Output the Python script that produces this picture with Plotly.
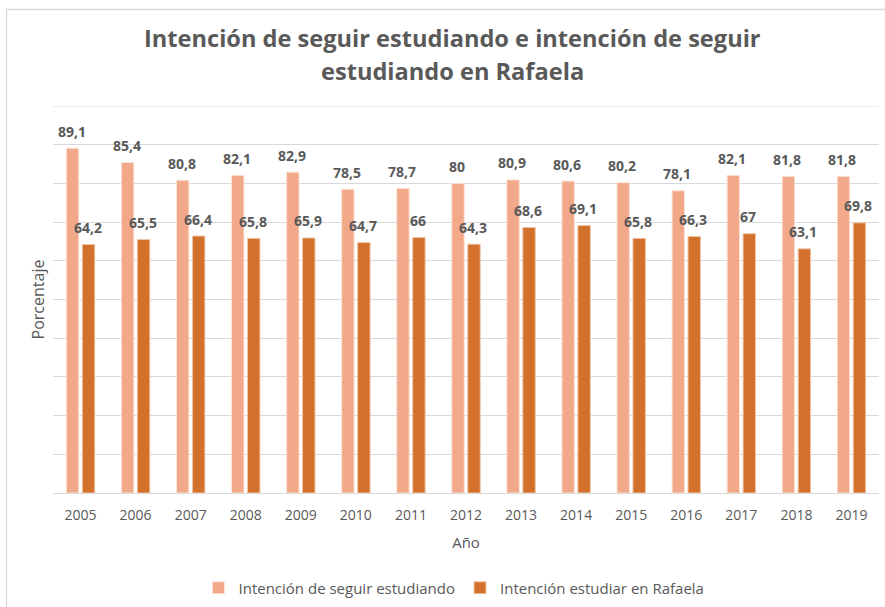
import plotly.graph_objects as go

years = ["2005", "2006", "2007", "2008", "2009", "2010", "2011", "2012",
         "2013", "2014", "2015", "2016", "2017", "2018", "2019"]
seguir = [89.1, 85.4, 80.8, 82.1, 82.9, 78.5, 78.7, 80, 80.9, 80.6, 80.2, 78.1, 82.1, 81.8, 81.8]
rafaela = [64.2, 65.5, 66.4, 65.8, 65.9, 64.7, 66, 64.3, 68.6, 69.1, 65.8, 66.3, 67, 63.1, 69.8]

name_seguir = "Intención de seguir estudiando"
name_rafaela = "Intención estudiar en Rafaela"
title_lines = ["Intención de seguir estudiando e intención de seguir",
               "estudiando en Rafaela"]

W, H = 885, 607
L, R, T, B = 53, 6, 106, 114
PH = H - T - B
PW = W - L - R
GREY = "#595959"
FONT = "Open Sans"

def py(ypix):
    return 1 + (T - ypix) / PH

def px(xpix):
    return (xpix - L) / PW

def fmt(v):
    return ("%g" % v).replace(".", ",")

fig = go.Figure()
annotations = []
for vals, name, col, edge, shift in [(seguir, name_seguir, "#F2A98A", "#FBE3D8", -9),
                                     (rafaela, name_rafaela, "#D3702B", "#F0C6A8", 7)]:
    fig.add_trace(go.Bar(
        x=years, y=vals, name=name,
        marker=dict(color=col, line=dict(color=edge, width=1)),
    ))
    for i, v in enumerate(vals):
        annotations.append(dict(
            text=fmt(v), x=i, y=float(v), xref="x", yref="y",
            xshift=shift, yshift=17,
            xanchor="center", yanchor="middle", showarrow=False,
            font=dict(family=FONT, size=14, color=GREY, weight="bold"),
        ))

for line, ypix in zip(title_lines, [38, 71]):
    annotations.append(dict(
        text=line, xref="paper", yref="paper", x=px(452), y=py(ypix),
        xanchor="center", yanchor="middle", showarrow=False,
        font=dict(family=FONT, size=23.6, color=GREY, weight="bold"),
    ))

fig.update_layout(
    width=W, height=H,
    margin=dict(l=L, r=R, t=T, b=B, autoexpand=False),
    paper_bgcolor="white", plot_bgcolor="white",
    separators=",.",
    barmode="group", bargap=0.42, bargroupgap=0.22,
    font=dict(family=FONT, size=14, color=GREY),
    showlegend=True,
    legend=dict(orientation="h", xanchor="center", yanchor="middle",
                xref="container", yref="container",
                x=454 / W, y=1 - 588 / H, font=dict(size=15, color=GREY)),
    annotations=annotations,
    shapes=[dict(type="rect", xref="paper", yref="paper",
                 x0=px(6.5), x1=px(900), y0=py(620), y1=py(9.5),
                 line=dict(color="#D9D9D9", width=1.3), layer="below"),
            dict(type="line", xref="paper", yref="y", x0=0, x1=1, y0=100, y1=100,
                 line=dict(color="#D9D9D9", width=1), layer="below")],
    xaxis=dict(
        type="category", categoryorder="array", categoryarray=years,
        range=[-0.5, len(years) - 0.5], autorange=False,
        automargin=False,
        showgrid=False, showline=False, ticks="outside", ticklen=9,
        tickcolor="rgba(0,0,0,0)",
        tickfont=dict(size=14, color=GREY),
        title=dict(text="Año", font=dict(size=15, color=GREY), standoff=14),
    ),
    yaxis=dict(
        automargin=False,
        range=[0, 100], autorange=False, dtick=10, showticklabels=False,
        showgrid=True, gridcolor="#D9D9D9", gridwidth=1,
        zeroline=True, zerolinecolor="#D9D9D9", zerolinewidth=1,
        showline=False, ticks="",
        title=dict(text="Porcentaje", font=dict(size=16, color=GREY), standoff=3),
    ),
)

fig.write_html("out.html", config={"displayModeBar": False},
               post_script="document.body.style.margin='0';")
